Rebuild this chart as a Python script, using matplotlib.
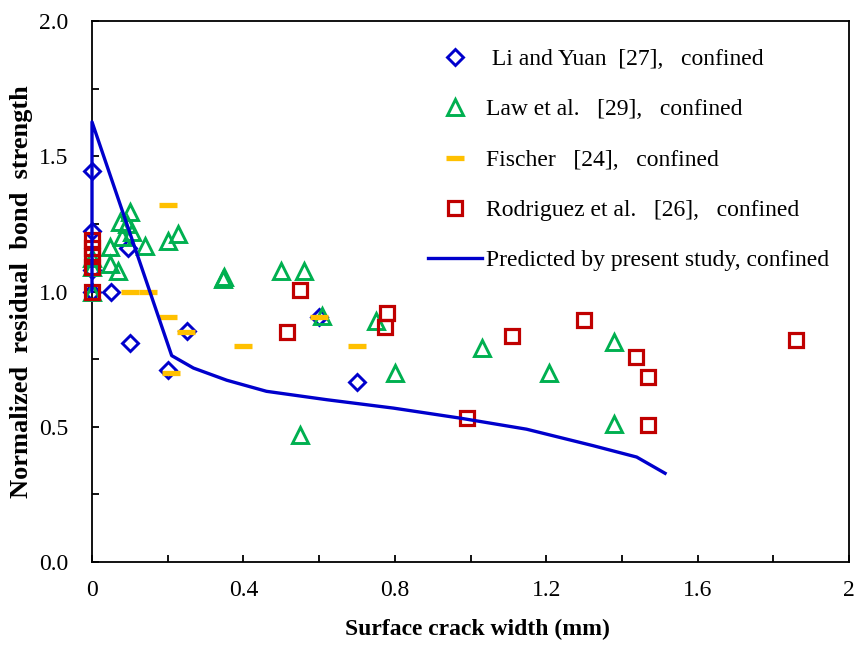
import matplotlib
matplotlib.use("Agg")
import matplotlib.pyplot as plt
from matplotlib.ticker import MultipleLocator

# ---- data ----
li_x = [0.0, 0.0, 0.0, 0.0, 0.05, 0.10, 0.095, 0.20, 0.25, 0.60, 0.70]
li_y = [1.445, 1.225, 1.08, 1.00, 1.00, 0.81, 1.16, 0.71, 0.855, 0.905, 0.664]

law_x = [0.0, 0.0, 0.0, 0.048, 0.048, 0.069, 0.074, 0.10, 0.092, 0.106, 0.079,
         0.14, 0.20, 0.228, 0.346, 0.35, 0.50, 0.56, 0.608, 0.55, 0.75, 0.80,
         1.03, 1.207, 1.38, 1.38]
law_y = [1.0, 1.09, 1.125, 1.163, 1.10, 1.074, 1.256, 1.293, 1.248, 1.219, 1.20,
         1.167, 1.185, 1.211, 1.045, 1.055, 1.074, 1.074, 0.91, 0.47, 0.89, 0.70,
         0.79, 0.70, 0.815, 0.511]

fis_x = [0.10, 0.148, 0.20, 0.20, 0.248, 0.40, 0.21, 0.60, 0.70]
fis_y = [1.0, 1.0, 1.32, 0.904, 0.85, 0.80, 0.70, 0.904, 0.80]

rod_x = [0.0, 0.0, 0.0, 0.0, 0.0, 0.55, 0.515, 0.78, 0.775, 0.99, 1.11, 1.30,
         1.437, 1.469, 1.469, 1.86]
rod_y = [1.19, 1.16, 1.13, 1.09, 1.0, 1.007, 0.85, 0.92, 0.87, 0.533, 0.837, 0.896,
         0.759, 0.685, 0.507, 0.822]

pred_x = [0.0, 0.0, 0.2105, 0.268, 0.356, 0.461, 0.62, 0.796, 0.972, 1.148,
          1.324, 1.439, 1.514]
pred_y = [1.0, 1.627, 0.763, 0.717, 0.672, 0.631, 0.60, 0.569, 0.532, 0.491,
          0.430, 0.388, 0.328]

xticks = [0, 0.4, 0.8, 1.2, 1.6, 2]
xticklabels = ["0", "0.4", "0.8", "1.2", "1.6", "2"]
yticks = [0.0, 0.5, 1.0, 1.5, 2.0]
yticklabels = ["0.0", "0.5", "1.0", "1.5", "2.0"]

labels = [" Li and Yuan  [27],   confined",
          "Law et al.   [29],   confined",
          "Fischer   [24],   confined",
          "Rodriguez et al.   [26],   confined",
          "Predicted by present study, confined"]

# ---- style ----
blue = "#0000CC"
green = "#00B050"
gold = "#FFC000"
red = "#C00000"
serif = ["Liberation Serif", "DejaVu Serif"]
plt.rcParams["font.family"] = serif

fig = plt.figure(figsize=(8.61, 6.46), dpi=100)
ax = fig.add_axes([92 / 861, 1 - 562 / 646, (849 - 92) / 861, (562 - 21) / 646])

h1, = ax.plot(li_x, li_y, ls="none", marker="D", ms=8.2, mfc="none", mec=blue,
              mew=2.1, clip_on=False, zorder=3)
h2, = ax.plot(law_x, law_y, ls="none", marker="^", ms=11.5, mfc="none", mec=green,
              mew=2.1, clip_on=False, zorder=3)
h3, = ax.plot(fis_x, fis_y, ls="none", marker="_", ms=12.5, mfc="none", mec=gold,
              mew=3.8, clip_on=False, zorder=3)
h4, = ax.plot(rod_x, rod_y, ls="none", marker="s", ms=10.5, mfc="none", mec=red,
              mew=2.3, clip_on=False, zorder=3)
h5, = ax.plot(pred_x, pred_y, color=blue, lw=2.4, clip_on=False, zorder=4)

ax.set_xlim(0, 2)
ax.set_ylim(0, 2)
ax.set_xticks(xticks)
ax.set_xticklabels(xticklabels)
ax.set_yticks(yticks)
ax.set_yticklabels(yticklabels)
ax.xaxis.set_minor_locator(MultipleLocator(0.2))
ax.yaxis.set_minor_locator(MultipleLocator(0.25))
ax.tick_params(which="both", direction="in", length=5, width=1.3, labelsize=17,
               top=False, right=False)
ax.tick_params(axis="x", pad=13)
ax.tick_params(axis="y", pad=17)
for s in ax.spines.values():
    s.set_linewidth(1.3)

ax.set_xlabel("Surface crack width (mm)", fontsize=17, fontweight="bold", labelpad=15)
ax.xaxis.set_label_coords(0.509, -0.105)
ax.set_ylabel("Normalized  residual  bond  strength", fontsize=19,
              fontweight="bold", labelpad=4)

leg = ax.legend([h1, h2, h3, h4, h5], labels, loc="upper left", frameon=False,
                fontsize=17, handlelength=2.3, handletextpad=0.17, labelspacing=1.22,
                bbox_to_anchor=(0.444, 0.949), borderaxespad=0, borderpad=0)

fig.savefig("out.png", dpi=100)
